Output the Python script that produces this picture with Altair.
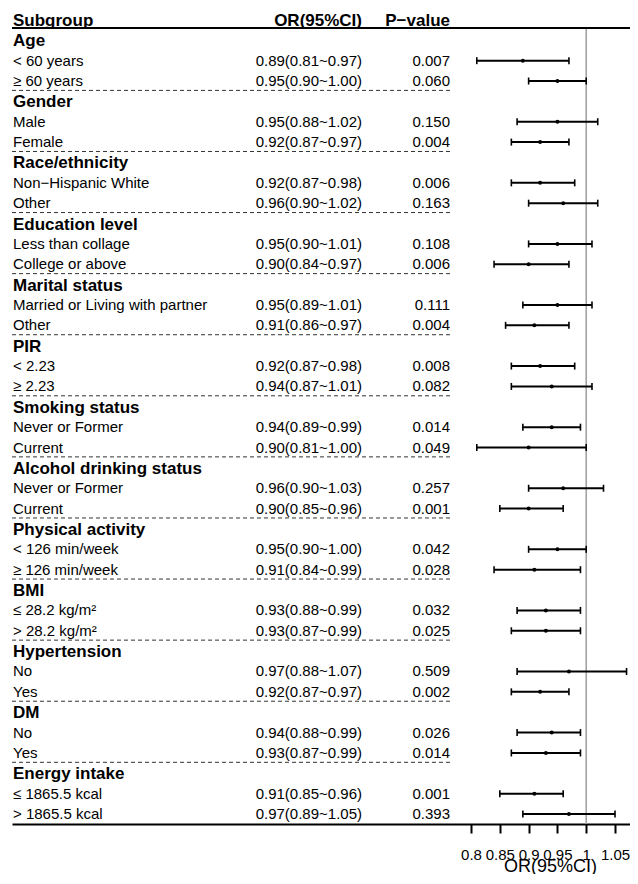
import altair as alt
import pandas as pd

FONT = "Liberation Sans"

groups = ["Age", "Gender", "Race/ethnicity", "Education level", "Marital status", "PIR",
          "Smoking status", "Alcohol drinking status", "Physical activity", "BMI",
          "Hypertension", "DM", "Energy intake"]
sub_labels = ["< 60 years", "≥ 60 years",
              "Male", "Female",
              "Non−Hispanic White", "Other",
              "Less than collage", "College or above",
              "Married or Living with partner", "Other",
              "< 2.23", "≥ 2.23",
              "Never or Former", "Current",
              "Never or Former", "Current",
              "< 126 min/week", "≥ 126 min/week",
              "≤ 28.2 kg/m²", "> 28.2 kg/m²",
              "No", "Yes",
              "No", "Yes",
              "≤ 1865.5 kcal", "> 1865.5 kcal"]
or_vals = [0.89, 0.95, 0.95, 0.92, 0.92, 0.96, 0.95, 0.90, 0.95, 0.91, 0.92, 0.94, 0.94,
           0.90, 0.96, 0.90, 0.95, 0.91, 0.93, 0.93, 0.97, 0.92, 0.94, 0.93, 0.91, 0.97]
lo_vals = [0.81, 0.90, 0.88, 0.87, 0.87, 0.90, 0.90, 0.84, 0.89, 0.86, 0.87, 0.87, 0.89,
           0.81, 0.90, 0.85, 0.90, 0.84, 0.88, 0.87, 0.88, 0.87, 0.88, 0.87, 0.85, 0.89]
hi_vals = [0.97, 1.00, 1.02, 0.97, 0.98, 1.02, 1.01, 0.97, 1.01, 0.97, 0.98, 1.01, 0.99,
           1.00, 1.03, 0.96, 1.00, 0.99, 0.99, 0.99, 1.07, 0.97, 0.99, 0.99, 0.96, 1.05]
p_vals = ["0.007", "0.060", "0.150", "0.004", "0.006", "0.163", "0.108", "0.006", "0.111",
          "0.004", "0.008", "0.082", "0.014", "0.049", "0.257", "0.001", "0.042", "0.028",
          "0.032", "0.025", "0.509", "0.002", "0.026", "0.014", "0.001", "0.393"]
x_ticks = [0.8, 0.85, 0.9, 0.95, 1.0, 1.05]

group_rows, sub_rows, dash_rows = [], [], []
idx = 0
for g, gname in enumerate(groups):
    group_rows.append({"idx": idx, "label": gname})
    idx += 1
    for k in range(2):
        j = 2 * g + k
        sub_rows.append({"idx": idx, "label": sub_labels[j], "or": or_vals[j],
                         "lo": lo_vals[j], "hi": hi_vals[j],
                         "ortxt": f"{or_vals[j]:.2f}({lo_vals[j]:.2f}~{hi_vals[j]:.2f})",
                         "ptxt": p_vals[j]})
        idx += 1
    if g < len(groups) - 1:
        dash_rows.append({"y": idx - 1 + 0.46})

gdf = pd.DataFrame(group_rows)
sdf = pd.DataFrame(sub_rows)
ddf = pd.DataFrame(dash_rows)

W, H = 618, 796
xscale = alt.Scale(domain=[0.0031, 1.0760], nice=False, zero=False)
yscale = alt.Scale(domain=[-0.604, 38.49], reverse=True, nice=False, zero=False)
xaxis = alt.Axis(values=x_ticks, labelExpr="format(datum.value, '.2~f')",
                 title="OR(95%CI)", titleX=538, titleY=33,
                 titleBaseline="top", titleAlign="center", titleFontSize=18,
                 titleFontWeight="normal", titleColor="black", titleFont=FONT,
                 labelFont=FONT, labelFontSize=15, labelColor="black", labelPadding=14,
                 tickSize=9, tickWidth=2, tickColor="black", domainColor="black",
                 domainWidth=2, grid=False, labelFlush=False, labelOverlap=False)


def X(field):
    return alt.X(field, type="quantitative", scale=xscale, axis=xaxis)


def Y(field):
    return alt.Y(field, type="quantitative", scale=yscale, axis=None)


vref = alt.Chart(pd.DataFrame({"v": [1.0]})).mark_rule(color="#a3a3a3", strokeWidth=1.6).encode(x=X("v"))

top_rule = alt.Chart(pd.DataFrame({"v": [1.0]})).mark_rule(color="black", strokeWidth=2).encode(
    x=alt.value(0), x2=alt.value(W), y=alt.value(0))

dashes = alt.Chart(ddf).mark_rule(color="#333333", strokeWidth=1, strokeDash=[4, 3]).encode(
    y=Y("y"), x=alt.value(0), x2=alt.value(440))

head_sub = alt.Chart(pd.DataFrame({"t": ["Subgroup"]})).mark_text(
    font=FONT, fontSize=17, fontWeight="bold", align="left", baseline="alphabetic", color="black"
).encode(text="t:N", x=alt.value(1), y=alt.value(-2))
head_or = alt.Chart(pd.DataFrame({"t": ["OR(95%CI)"]})).mark_text(
    font=FONT, fontSize=17, fontWeight="bold", align="right", baseline="alphabetic", color="black"
).encode(text="t:N", x=alt.value(350), y=alt.value(-2))
head_p = alt.Chart(pd.DataFrame({"t": ["P−value"]})).mark_text(
    font=FONT, fontSize=17, fontWeight="bold", align="right", baseline="alphabetic", color="black"
).encode(text="t:N", x=alt.value(438), y=alt.value(-2))

glab = alt.Chart(gdf).mark_text(font=FONT, fontSize=17, fontWeight="bold", align="left",
                                baseline="middle", color="black", dy=1).encode(
    text="label:N", x=alt.value(1), y=Y("idx"))
slab = alt.Chart(sdf).mark_text(font=FONT, fontSize=15, align="left", baseline="middle",
                                color="black").encode(text="label:N", x=alt.value(1), y=Y("idx"))
ortx = alt.Chart(sdf).mark_text(font=FONT, fontSize=15, align="right", baseline="middle",
                                color="black").encode(text="ortxt:N", x=alt.value(350), y=Y("idx"))
ptx = alt.Chart(sdf).mark_text(font=FONT, fontSize=15, align="right", baseline="middle",
                               color="black").encode(text="ptxt:N", x=alt.value(438), y=Y("idx"))

ci = alt.Chart(sdf).mark_rule(color="black", strokeWidth=2).encode(x=X("lo"), x2="hi:Q", y=Y("idx"))
cap_lo = alt.Chart(sdf).mark_tick(color="black", orient="vertical", size=7, thickness=1.6, opacity=1).encode(
    x=X("lo"), y=Y("idx"))
cap_hi = alt.Chart(sdf).mark_tick(color="black", orient="vertical", size=7, thickness=1.6, opacity=1).encode(
    x=X("hi"), y=Y("idx"))
pts = alt.Chart(sdf).mark_circle(color="black", size=16, opacity=1).encode(x=X("or"), y=Y("idx"))

chart = alt.layer(vref, top_rule, dashes, head_sub, head_or, head_p, glab, slab, ortx, ptx,
                  ci, cap_lo, cap_hi, pts).properties(
    width=W, height=H, autosize="none",
    padding={"left": 4, "top": 20, "right": 0, "bottom": 50},
).configure_view(stroke=None)

chart.save("out.html", embed_options={"renderer": "svg", "actions": False})
